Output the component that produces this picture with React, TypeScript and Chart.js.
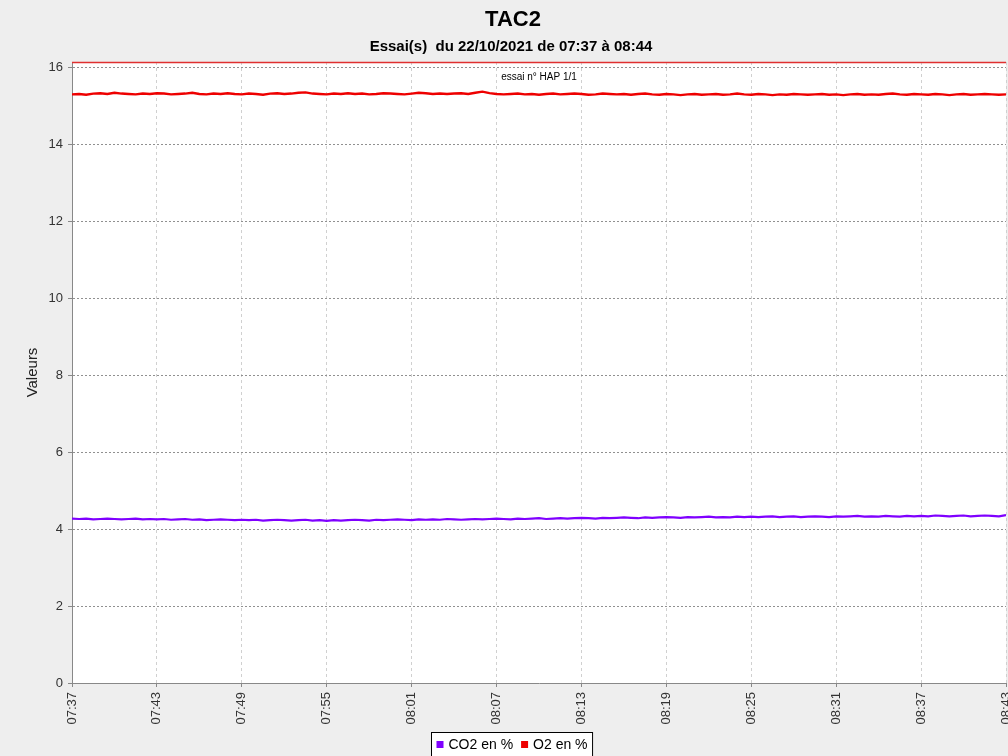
import React, { useEffect, useRef } from "react";
import { Chart, registerables } from "chart.js";

Chart.register(...registerables);

// O2 (%) sampled every 30 s from 07:37 to 08:43
const O2_VALUES = [
  15.29, 15.30, 15.28, 15.31, 15.32, 15.30, 15.33, 15.31, 15.30, 15.29, 15.31, 15.30,
  15.32, 15.31, 15.29, 15.30, 15.31, 15.33, 15.30, 15.29, 15.31, 15.30, 15.32, 15.30,
  15.29, 15.31, 15.30, 15.28, 15.31, 15.32, 15.30, 15.31, 15.33, 15.34, 15.31, 15.30,
  15.29, 15.31, 15.30, 15.32, 15.30, 15.31, 15.29, 15.30, 15.32, 15.31, 15.30, 15.29,
  15.31, 15.33, 15.32, 15.30, 15.31, 15.30, 15.31, 15.32, 15.30, 15.33, 15.36, 15.32,
  15.30, 15.29, 15.30, 15.31, 15.29, 15.30, 15.28, 15.30, 15.31, 15.29, 15.30, 15.31,
  15.30, 15.28, 15.29, 15.31, 15.30, 15.29, 15.30, 15.28, 15.30, 15.31, 15.29, 15.28,
  15.30, 15.29, 15.27, 15.29, 15.30, 15.28, 15.29, 15.30, 15.28, 15.29, 15.31, 15.29,
  15.28, 15.30, 15.29, 15.27, 15.29, 15.28, 15.30, 15.29, 15.28, 15.29, 15.30, 15.28,
  15.29, 15.27, 15.29, 15.30, 15.28, 15.29, 15.28, 15.30, 15.31, 15.29, 15.28, 15.30,
  15.29, 15.28, 15.30, 15.29, 15.27, 15.29, 15.30, 15.28, 15.29, 15.30, 15.29, 15.28,
  15.29,
];

// CO2 (%) sampled every 30 s from 07:37 to 08:43
const CO2_VALUES = [
  4.27, 4.26, 4.27, 4.25, 4.26, 4.27, 4.26, 4.25, 4.26, 4.27, 4.25, 4.26,
  4.25, 4.26, 4.24, 4.25, 4.26, 4.24, 4.25, 4.23, 4.24, 4.25, 4.24, 4.23,
  4.24, 4.23, 4.24, 4.22, 4.23, 4.24, 4.23, 4.22, 4.23, 4.24, 4.22, 4.23,
  4.21, 4.23, 4.22, 4.23, 4.24, 4.23, 4.22, 4.24, 4.23, 4.24, 4.25, 4.24,
  4.23, 4.25, 4.24, 4.25, 4.24, 4.26, 4.25, 4.24, 4.25, 4.26, 4.25, 4.26,
  4.27, 4.26, 4.25, 4.27, 4.26, 4.27, 4.28, 4.26, 4.27, 4.28, 4.27, 4.28,
  4.29, 4.28, 4.27, 4.29, 4.28, 4.29, 4.30, 4.29, 4.28, 4.30, 4.29, 4.30,
  4.31, 4.30, 4.29, 4.31, 4.30, 4.31, 4.32, 4.30, 4.31, 4.30, 4.32, 4.31,
  4.32, 4.31, 4.32, 4.33, 4.31, 4.32, 4.33, 4.31, 4.32, 4.33, 4.32, 4.31,
  4.33, 4.32, 4.33, 4.34, 4.32, 4.33, 4.32, 4.34, 4.33, 4.32, 4.34, 4.33,
  4.34, 4.33, 4.35, 4.34, 4.33, 4.34, 4.35, 4.33, 4.34, 4.35, 4.34, 4.33,
  4.36,
];

const SAMPLE_MINUTES = 0.5;
const X_TICK_LABELS = [
  "07:37", "07:43", "07:49", "07:55", "08:01", "08:07",
  "08:13", "08:19", "08:25", "08:31", "08:37", "08:43",
];
const X_TICK_STEP = 6;
const Y_MAX = 16.13;
const Y_TICK_STEP = 2;

const SERIES_LABELS = ["CO2 en %", "O2 en %"];
const SERIES_COLORS = ["#7f00ff", "#ee0000"];

const TITLE = "TAC2";
const SUBTITLE = "Essai(s)  du 22/10/2021 de 07:37 à 08:44";
const ANNOTATION = "essai n° HAP 1/1";
const Y_TITLE = "Valeurs";

const FONT = "'Liberation Sans', Arial, sans-serif";

const toPoints = (arr: number[]) => arr.map((y, i) => ({ x: i * SAMPLE_MINUTES, y }));

const decorPlugin = {
  id: "decor",
  beforeDraw(chart: any) {
    const { ctx, chartArea: a, width, height } = chart;
    ctx.save();
    ctx.fillStyle = "#eeeeee";
    ctx.fillRect(0, 0, width, height);
    ctx.fillStyle = "#ffffff";
    ctx.fillRect(a.left, a.top, a.right - a.left, a.bottom - a.top);
    ctx.restore();
  },
  afterDraw(chart: any) {
    const { ctx, chartArea: a } = chart;
    ctx.save();
    // red top line
    ctx.strokeStyle = "#e03030";
    ctx.lineWidth = 1.5;
    ctx.beginPath();
    ctx.moveTo(a.left, a.top + 0.5);
    ctx.lineTo(a.right, a.top + 0.5);
    ctx.stroke();

    ctx.fillStyle = "#000";
    ctx.textAlign = "center";
    ctx.textBaseline = "middle";
    ctx.font = `bold 22px ${FONT}`;
    ctx.fillText(TITLE, 513, 20);
    ctx.font = `bold 15px ${FONT}`;
    ctx.fillText(SUBTITLE, 511, 47);
    ctx.font = `10px ${FONT}`;
    ctx.fillText(ANNOTATION, (a.left + a.right) / 2, 77);

    // y title
    ctx.save();
    ctx.translate(33, (a.top + a.bottom) / 2);
    ctx.rotate(-Math.PI / 2);
    ctx.fillStyle = "#222";
    ctx.font = `15px ${FONT}`;
    ctx.fillText(Y_TITLE, 0, 0);
    ctx.restore();

    // legend box
    ctx.font = `14px ${FONT}`;
    ctx.textAlign = "left";
    const gap = 8;
    const sq = 7;
    const widths = SERIES_LABELS.map((l) => ctx.measureText(l).width);
    const total = widths.reduce((s, w) => s + sq + 5 + w, 0) + gap * (SERIES_LABELS.length - 1) + 10;
    const bx = Math.round(512 - total / 2) + 0.5;
    const by = 732.5;
    ctx.fillStyle = "#fff";
    ctx.fillRect(bx, by, total, 30);
    ctx.strokeStyle = "#000";
    ctx.lineWidth = 1;
    ctx.strokeRect(bx, by, total, 30);
    let x = bx + 5;
    SERIES_LABELS.forEach((l, i) => {
      ctx.fillStyle = SERIES_COLORS[i];
      ctx.fillRect(x, 741, sq, sq);
      x += sq + 5;
      ctx.fillStyle = "#000";
      ctx.fillText(l, x, 745);
      x += widths[i] + gap;
    });
    ctx.restore();
  },
};

export default function App() {
  const ref = useRef<HTMLCanvasElement | null>(null);
  useEffect(() => {
    if (!ref.current) return;
    const chart = new Chart(ref.current, {
      type: "line",
      data: {
        datasets: [
          {
            label: SERIES_LABELS[0],
            data: toPoints(CO2_VALUES),
            borderColor: SERIES_COLORS[0],
            backgroundColor: SERIES_COLORS[0],
            borderWidth: 2.2,
            pointRadius: 0,
            tension: 0,
          },
          {
            label: SERIES_LABELS[1],
            data: toPoints(O2_VALUES),
            borderColor: SERIES_COLORS[1],
            backgroundColor: SERIES_COLORS[1],
            borderWidth: 2.4,
            pointRadius: 0,
            tension: 0,
          },
        ],
      },
      options: {
        responsive: false,
        animation: false,
        layout: { padding: { top: 62, right: 2, left: 0, bottom: 0 } },
        plugins: { legend: { display: false }, title: { display: false }, tooltip: { enabled: false } },
        scales: {
          x: {
            type: "linear",
            min: 0,
            max: (X_TICK_LABELS.length - 1) * X_TICK_STEP,
            ticks: {
              stepSize: X_TICK_STEP,
              autoSkip: false,
              maxRotation: 90,
              minRotation: 90,
              padding: 5,
              color: "#333",
              font: { family: FONT, size: 13 },
              callback: (v: any) => X_TICK_LABELS[Math.round(Number(v) / X_TICK_STEP)] ?? "",
            },
            grid: { color: "#d0d0d0", tickLength: 4, tickColor: "#888", tickBorderDash: [] },
            border: { color: "#888", dash: [3, 3] },
            afterFit: (s: any) => {
              s.height = 73;
              s.paddingLeft = 0;
              s.paddingRight = 0;
            },
          } as any,
          y: {
            min: 0,
            max: Y_MAX,
            ticks: {
              stepSize: Y_TICK_STEP,
              includeBounds: false,
              padding: 5,
              color: "#333",
              font: { family: FONT, size: 13 },
            },
            afterBuildTicks: (s: any) => {
              s.ticks = s.ticks.filter((t: any) => Math.abs(t.value / Y_TICK_STEP - Math.round(t.value / Y_TICK_STEP)) < 1e-6);
            },
            grid: { color: "#909090", tickLength: 4, tickColor: "#888", tickBorderDash: [] },
            border: { color: "#888", dash: [2, 2] },
            afterFit: (s: any) => {
              s.width = 72;
            },
          } as any,
        },
      },
      plugins: [decorPlugin],
    });
    return () => chart.destroy();
  }, []);
  return (
    <div style={{ position: "fixed", left: 0, top: 0, width: 1008, height: 756, background: "#eeeeee" }}>
      <canvas ref={ref} width={1008} height={756} style={{ display: "block" }} />
    </div>
  );
}
